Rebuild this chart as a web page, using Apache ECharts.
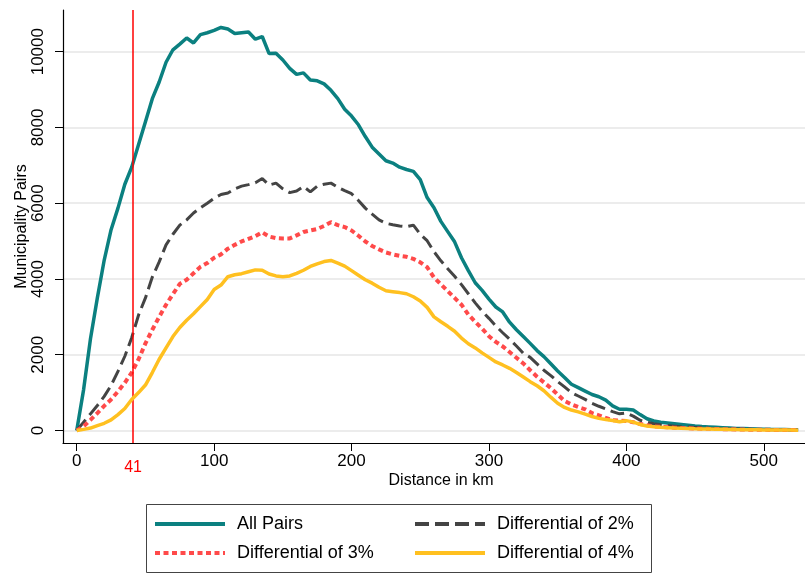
<!DOCTYPE html>
<html><head><meta charset="utf-8">
<script src="https://cdn.jsdelivr.net/npm/echarts@6/dist/echarts.min.js"></script>
<style>html,body{margin:0;padding:0;background:#fff}#c{width:805px;height:575px}</style>
</head><body><div id="c"></div>
<script>
const distanceKm = [0,5,10,15,20,25,30,35,40,45,50,55,60,65,70,75,80,85,90,95,
  100,105,110,115,120,125,130,135,140,145,150,155,160,165,170,175,180,185,190,195,
  200,205,210,215,220,225,230,235,240,245,250,255,260,265,270,275,280,285,290,295,
  300,305,310,315,320,325,330,335,340,345,350,355,360,365,370,375,380,385,390,395,
  400,405,410,415,420,425,430,435,440,445,450,455,460,465,470,475,480,485,490,495,
  500,505,510,515,520,525];
const allPairs = [0,1080,2420,3500,4500,5300,5870,6500,6950,7550,
  8150,8760,9200,9720,10050,10200,10360,10230,10450,10500,
  10560,10640,10600,10480,10500,10520,10330,10400,9950,9960,
  9780,9560,9400,9440,9250,9230,9150,8980,8760,8480,
  8300,8070,7760,7480,7300,7120,7060,6950,6890,6840,
  6620,6150,5880,5520,5250,4980,4560,4220,3900,3700,
  3470,3260,3130,2860,2660,2480,2300,2110,1950,1760,
  1570,1400,1220,1130,1040,950,890,800,650,560,
  560,540,420,310,250,220,200,180,160,140,
  120,105,95,85,75,65,55,50,45,40,
  35,30,28,25,20,15];
const diff2 = [0,220,440,660,900,1190,1560,1960,2450,3050,
  3500,4050,4450,4900,5180,5420,5560,5740,5880,6000,
  6130,6230,6270,6380,6450,6490,6540,6650,6480,6530,
  6380,6280,6320,6440,6300,6450,6500,6530,6420,6330,
  6250,6070,5870,5710,5560,5470,5430,5400,5380,5420,
  5180,5010,4720,4480,4270,4070,3850,3610,3370,3150,
  2960,2760,2580,2410,2230,2040,1930,1760,1590,1450,
  1290,1150,1000,910,820,720,640,570,500,440,
  460,380,270,220,176,150,130,115,100,90,
  80,70,62,55,48,42,38,34,30,27,
  24,21,18,16,14,12];
const diff3 = [0,110,280,460,650,820,1030,1260,1530,1880,
  2300,2660,3000,3320,3600,3870,3980,4150,4320,4420,
  4560,4650,4800,4900,4990,5060,5130,5230,5120,5080,
  5070,5070,5150,5240,5280,5320,5400,5500,5420,5370,
  5280,5140,4990,4870,4780,4700,4650,4610,4585,4530,
  4440,4310,4040,3860,3680,3500,3320,3060,2870,2690,
  2490,2340,2220,2070,1920,1770,1590,1420,1270,1120,
  950,780,690,620,560,460,400,330,270,265,
  250,220,170,140,110,95,85,75,68,60,
  54,48,43,39,35,31,28,25,22,20,
  18,16,14,12,11,10];
const diff4 = [0,30,65,130,190,280,420,580,820,1000,
  1200,1530,1880,2180,2480,2720,2910,3080,3270,3460,
  3720,3840,4060,4110,4140,4190,4240,4230,4130,4080,
  4060,4080,4150,4230,4330,4400,4460,4490,4420,4340,
  4220,4100,3980,3890,3780,3690,3665,3640,3610,3530,
  3420,3250,3000,2870,2750,2620,2440,2290,2180,2050,
  1930,1810,1730,1640,1530,1410,1290,1180,1050,880,
  720,610,540,490,430,370,320,290,265,230,
  260,220,160,120,100,85,75,65,58,52,
  46,41,37,33,30,27,24,22,20,18,
  16,14,12,11,10,9];
const seriesNames = ['All Pairs','Differential of 2%','Differential of 3%','Differential of 4%'];
const xTicks = [0,100,200,300,400,500];
const yTicks = [0,2000,4000,6000,8000,10000];
const cutoffKm = 41;

const FONT = '"Liberation Sans", Arial, sans-serif';
function pts(vals){ return distanceKm.map((d,i)=>[d, vals[i]]); }

const legendCommon = {
  orient:'vertical', top:514, padding:0,
  itemWidth:70, itemHeight:14, itemGap:9,
  itemStyle:{opacity:0},
  lineStyle:{width:4},
  textStyle:{fontSize:18, color:'#000', lineHeight:20, fontFamily:FONT, padding:[0,0,0,7]}
};

const chart = echarts.init(document.getElementById('c'), null, {renderer:'canvas'});
chart.setOption({
  animation:false,
  backgroundColor:'#fff',
  textStyle:{fontFamily:FONT},
  grid:{left:63, right:0, top:10, bottom:132, containLabel:false},
  xAxis:{
    type:'value', min:-10, max:530,
    name:'Distance in km', nameLocation:'middle', nameGap:30, nameMoveOverlap:false,
    nameTextStyle:{fontSize:16, color:'#000', fontFamily:FONT, padding:[0,0,0,14]},
    axisLine:{show:true, onZero:false, lineStyle:{color:'#000', width:1.2}},
    axisTick:{show:true, length:8, lineStyle:{color:'#000', width:1}, customValues:xTicks},
    axisLabel:{fontSize:17, color:'#000', margin:10, fontFamily:FONT, customValues:xTicks,
      formatter:function(v){ return String(v); }},
    splitLine:{show:false}
  },
  yAxis:{
    type:'value', min:-330, max:11100,
    name:'Municipality Pairs', nameLocation:'middle', nameGap:33, nameMoveOverlap:false,
    nameTextStyle:{fontSize:16, color:'#000', fontFamily:FONT},
    axisLine:{show:true, onZero:false, lineStyle:{color:'#000', width:1.2}},
    axisTick:{show:true, length:8, lineStyle:{color:'#000', width:1}, customValues:yTicks},
    axisLabel:{fontSize:17, color:'#000', margin:16, rotate:90, fontFamily:FONT, customValues:yTicks,
      formatter:function(v){ return String(v); }},
    splitLine:{show:true, lineStyle:{color:'#e6e6e6', width:1.5}, customValues:yTicks}
  },
  legend:[
    Object.assign({data:[seriesNames[0], seriesNames[2]], left:153}, legendCommon),
    Object.assign({data:[seriesNames[1], seriesNames[3]], left:413}, legendCommon)
  ],
  graphic:[{type:'rect', shape:{x:146.5, y:504.5, width:505, height:68},
    style:{fill:'none', stroke:'#444', lineWidth:1}, silent:true, z:100}],
  series:[
    {name:seriesNames[0], type:'line', data:pts(allPairs), symbol:'none', z:2,
     lineStyle:{color:'#0b8080', width:3.5}, itemStyle:{color:'#0b8080'},
     markLine:{symbol:'none', silent:true, animation:false,
       data:[{xAxis:cutoffKm}],
       lineStyle:{color:'#ff0000', width:1.5, type:'solid'},
       label:{show:true, position:'start', formatter:String(cutoffKm), color:'#ff0000', fontSize:16, distance:17, fontFamily:FONT}}},
    {name:seriesNames[1], type:'line', data:pts(diff2), symbol:'none', z:3,
     lineStyle:{color:'#444444', width:3, type:[14,6]}, itemStyle:{color:'#444444'}},
    {name:seriesNames[2], type:'line', data:pts(diff3), symbol:'none', z:4,
     lineStyle:{color:'#ff4a4a', width:4, type:[5,3.5]}, itemStyle:{color:'#ff4a4a'}},
    {name:seriesNames[3], type:'line', data:pts(diff4), symbol:'none', z:5,
     lineStyle:{color:'#ffc020', width:3.5}, itemStyle:{color:'#ffc020'}}
  ]
});
</script></body></html>
